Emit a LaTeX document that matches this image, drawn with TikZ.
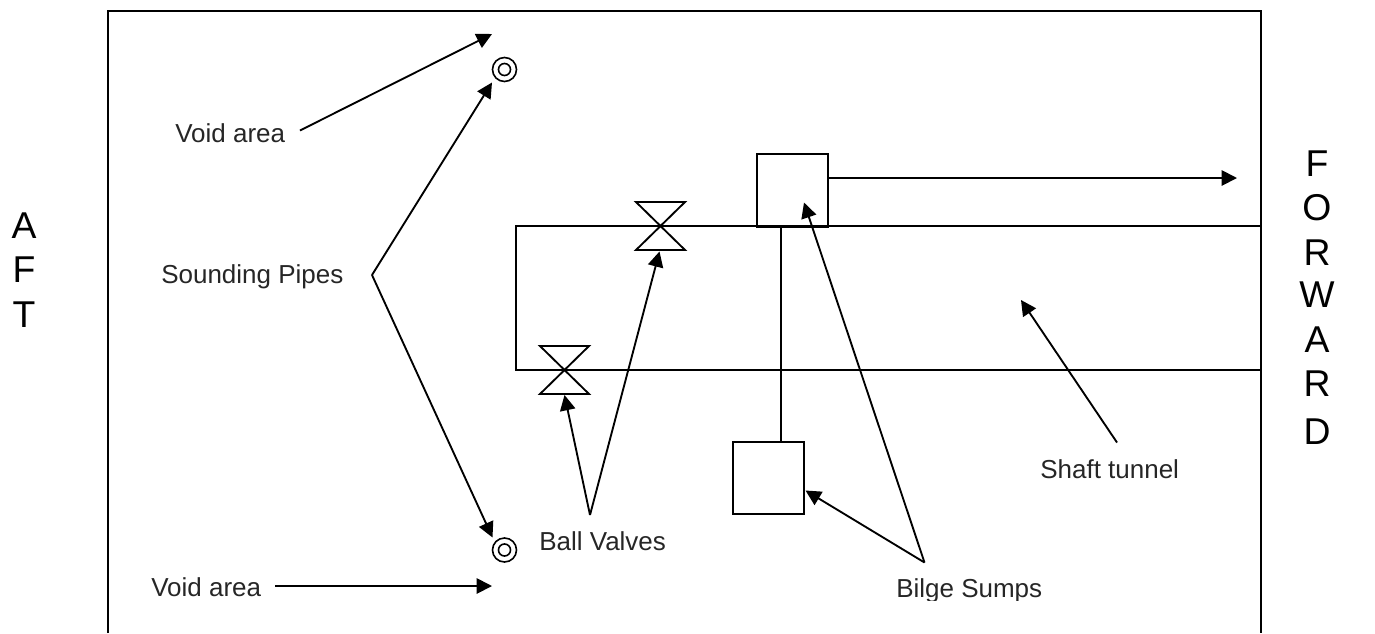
\documentclass[tikz,border=0pt]{standalone}
\usepackage{fontspec}
\setmainfont{Liberation Sans}
\usetikzlibrary{arrows.meta}
\tikzset{
 ln/.style={draw=black,line width=1.4pt},
 arr/.style={ln,-{Triangle[length=11.5pt,width=11.5pt]}},
 lbl/.style={font=\fontsize{19.5pt}{22pt}\selectfont,inner sep=0pt,anchor=base west,text=black!85},
 big/.style={font=\fontsize{28pt}{33.5pt}\selectfont,inner sep=0pt,align=center,text=black},
 sump/.style={ln,minimum width=53.5pt,minimum height=53.5pt,inner sep=0pt,fill=white},
 ringo/.style={circle,draw=black,line width=1.2pt,minimum size=18pt,inner sep=0pt},
 ringi/.style={circle,draw=black,line width=1.2pt,minimum size=9pt,inner sep=0pt},
}
\begin{document}
\begin{tikzpicture}[x=0.75pt,y=-0.75pt]
\useasboundingbox (0,0) rectangle (1375,633);
% frame
\coordinate (fa) at (108,633);
\coordinate (fb) at (108,11);
\coordinate (fc) at (1261,11);
\coordinate (fd) at (1261,633);
\draw[ln] (fa) -- (fb) -- (fc) -- (fd);
% tunnel
\coordinate (ta) at (1261,226);
\coordinate (tb) at (516,226);
\coordinate (tc) at (516,370);
\coordinate (td) at (1261,370);
\draw[ln] (ta) -- (tb) -- (tc) -- (td);
% sumps
\node[sump] (s1) at (792.5,190) {};
\draw[ln] (s1.south west) -- (s1.south east);
\node[sump] (s2) at (768.3,478) {};
\coordinate (s2top) at (780.7,442);
\coordinate (s1bot) at (780.7,226);
\draw[ln] (s1bot) -- (s2top);
% valves
\coordinate (v1a) at (636,202);
\coordinate (v1b) at (685,202);
\coordinate (v1c) at (636,250);
\coordinate (v1d) at (685,250);
\draw[ln] (v1a) -- (v1b) -- (v1c) -- (v1d) -- cycle;
\coordinate (v2a) at (540,346);
\coordinate (v2b) at (589,346);
\coordinate (v2c) at (540,394);
\coordinate (v2d) at (589,394);
\draw[ln] (v2a) -- (v2b) -- (v2c) -- (v2d) -- cycle;
% rings
\node[ringo] (r1) at (504.5,69.5) {};
\node[ringi] (r1i) at (504.5,69.5) {};
\node[ringo] (r2) at (504.5,550) {};
\node[ringi] (r2i) at (504.5,550) {};
% labels
\node[lbl] (void1) at (175,142) {Void area};
\node[lbl] (sp) at (161,283) {Sounding Pipes};
\node[lbl] (void2) at (151,596) {Void area};
\node[lbl] (bv) at (539,550) {Ball Valves};
\node[lbl] (st) at (1040,478) {Shaft tunnel};
\begin{scope}
\clip (880,570) rectangle (1060,600.5);
\node[lbl] (bs) at (896,597) {Bilge Sumps};
\end{scope}
\node[big] (aft) at (24,270) {A\\F\\T};
\node[big] (fwd) at (1317,297.5) {F\\O\\R\\[-2pt]W\\A\\R\\[2.5pt]D};
% connector ends
\coordinate (c1s) at (300,130.5);
\coordinate (c1e) at (492,34);
\coordinate (spv) at (372,275);
\coordinate (spa) at (492,82.5);
\coordinate (spb) at (492.5,537.5);
\coordinate (c2s) at (275,586);
\coordinate (c2e) at (492,586);
\coordinate (bvv) at (590,515);
\coordinate (bva) at (564.5,395);
\coordinate (bvb) at (659.5,251.5);
\coordinate (bsv) at (924.5,562.5);
\coordinate (bsa) at (805.5,490.5);
\coordinate (bsb) at (804,202.5);
\coordinate (sts) at (1117,442.5);
\coordinate (ste) at (1021,300);
\coordinate (oute) at (1237,178);
\coordinate (outs) at (s1.east |- oute);
\draw[arr] (c1s) -- (c1e);
\draw[arr] (spv) -- (spa);
\draw[arr] (spv) -- (spb);
\draw[arr] (c2s) -- (c2e);
\draw[arr] (bvv) -- (bva);
\draw[arr] (bvv) -- (bvb);
\draw[arr] (bsv) -- (bsa);
\draw[arr] (bsv) -- (bsb);
\draw[arr] (sts) -- (ste);
\draw[arr] (outs) -- (oute);
\end{tikzpicture}
\end{document}
